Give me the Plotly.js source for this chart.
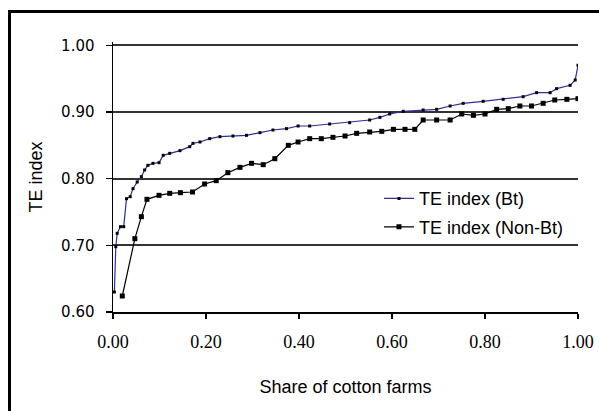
<!DOCTYPE html>
<html>
<head>
<meta charset="utf-8">
<script src="https://cdn.plot.ly/plotly-3.0.1.min.js"></script>
<style>
  html, body { margin: 0; padding: 0; background: #fff; }
  #wrap { position: relative; width: 599px; height: 411px; overflow: hidden; }
  #chart { width: 599px; height: 411px; }
  #frame { position: absolute; left: 8px; top: 10px; width: 620px; height: 420px;
           border-left: 3px solid #000; border-top: 3px solid #000; pointer-events: none; }
</style>
</head>
<body>
<div id="wrap">
  <div id="chart"></div>
  <div id="frame"></div>
</div>
<script>
// Share of cotton farms (x) and TE index (y)
const btShare = [0.003, 0.006, 0.009, 0.016, 0.023, 0.029, 0.037, 0.043, 0.052, 0.061, 0.068, 0.075, 0.086, 0.099,
  0.108, 0.122, 0.144, 0.165, 0.172, 0.187, 0.208, 0.230, 0.258, 0.287, 0.316, 0.344, 0.373, 0.398,
  0.423, 0.466, 0.509, 0.552, 0.574, 0.595, 0.624, 0.667, 0.696, 0.725, 0.753, 0.796, 0.839, 0.882,
  0.911, 0.940, 0.954, 0.983, 0.994, 1.000];
const btTE = [0.630, 0.698, 0.718, 0.728, 0.728, 0.770, 0.773, 0.785, 0.795, 0.803, 0.813, 0.820, 0.823, 0.824,
  0.835, 0.838, 0.842, 0.848, 0.853, 0.855, 0.860, 0.863, 0.864, 0.865, 0.869, 0.873, 0.875, 0.879,
  0.879, 0.882, 0.884, 0.888, 0.892, 0.897, 0.901, 0.903, 0.904, 0.909, 0.913, 0.916, 0.919, 0.923,
  0.929, 0.929, 0.935, 0.940, 0.948, 0.970];

const nonBtShare = [0.020, 0.047, 0.061, 0.073, 0.099, 0.122, 0.145, 0.171, 0.197, 0.222, 0.247, 0.273, 0.298,
  0.323, 0.348, 0.377, 0.398, 0.423, 0.448, 0.473, 0.499, 0.524, 0.552, 0.578, 0.603, 0.628, 0.649,
  0.667, 0.696, 0.725, 0.750, 0.775, 0.800, 0.825, 0.850, 0.875, 0.900, 0.925, 0.950, 0.976, 1.000];
const nonBtTE = [0.624, 0.710, 0.743, 0.769, 0.775, 0.778, 0.779, 0.780, 0.792, 0.797, 0.809, 0.817, 0.823,
  0.821, 0.830, 0.850, 0.855, 0.860, 0.860, 0.862, 0.864, 0.868, 0.870, 0.871, 0.874, 0.874, 0.874,
  0.888, 0.888, 0.888, 0.897, 0.895, 0.897, 0.904, 0.905, 0.909, 0.909, 0.913, 0.918, 0.919, 0.920];

const xTickVals = [0, 0.2, 0.4, 0.6, 0.8, 1.0];
const xTickText = ['0.00', '0.20', '0.40', '0.60', '0.80', '1.00'];
const yTickVals = [0.6, 0.7, 0.8, 0.9, 1.0];
const yTickText = ['0.60', '0.70', '0.80', '0.90', '1.00'];

const sansFont = 'Liberation Sans, Arial, sans-serif';

const traces = [
  {
    x: btShare, y: btTE, name: 'TE index (Bt)', type: 'scatter', mode: 'lines+markers',
    legendgroup: 'bt',
    line: { color: '#2e2e9c', width: 1.2 },
    marker: { color: '#000', size: 3, symbol: 'square' }
  },
  {
    x: nonBtShare, y: nonBtTE, name: 'TE index (Non-Bt)', type: 'scatter', mode: 'lines+markers',
    legendgroup: 'nonbt',
    line: { color: '#000', width: 1.2 },
    marker: { color: '#000', size: 5, symbol: 'square' }
  }
];

const layout = {
  width: 599, height: 411,
  margin: { l: 113, r: 21, t: 42, b: 99 },
  paper_bgcolor: '#fff', plot_bgcolor: '#fff',
  showlegend: true,
  legend: {
    x: 0.572, y: 0.488, xanchor: 'left', yanchor: 'top',
    bgcolor: 'rgba(0,0,0,0)', borderwidth: 0,
    font: { family: sansFont, size: 18, color: '#000' },
    tracegroupgap: 2, itemwidth: 30
  },
  xaxis: {
    range: [0, 1], tickvals: xTickVals, ticktext: xTickText,
    showgrid: false, zeroline: false,
    showline: true, linecolor: '#000', linewidth: 1.5,
    ticks: 'outside', ticklen: 5, tickwidth: 1.2, tickcolor: '#000',
    ticklabelstandoff: 8,
    tickfont: { family: 'Liberation Serif, Times New Roman, serif', size: 18, color: '#000' },
    title: { text: 'Share of cotton farms', font: { family: sansFont, size: 18, color: '#000' }, standoff: 29 },
    fixedrange: true
  },
  yaxis: {
    range: [0.6, 1.005], tickvals: yTickVals, ticktext: yTickText,
    showgrid: true, gridcolor: '#333', gridwidth: 2, zeroline: false,
    showline: true, linecolor: '#000', linewidth: 1.5,
    ticks: 'outside', ticklen: 6, tickwidth: 1.2, tickcolor: '#000',
    ticklabelstandoff: 8,
    tickfont: { family: 'DejaVu Sans, Tahoma, sans-serif', size: 15, color: '#000' },
    title: { text: 'TE index', font: { family: sansFont, size: 18, color: '#000' }, standoff: 14 },
    fixedrange: true
  }
};

Plotly.newPlot('chart', traces, layout, { displayModeBar: false, staticPlot: true });
</script>
</body>
</html>
